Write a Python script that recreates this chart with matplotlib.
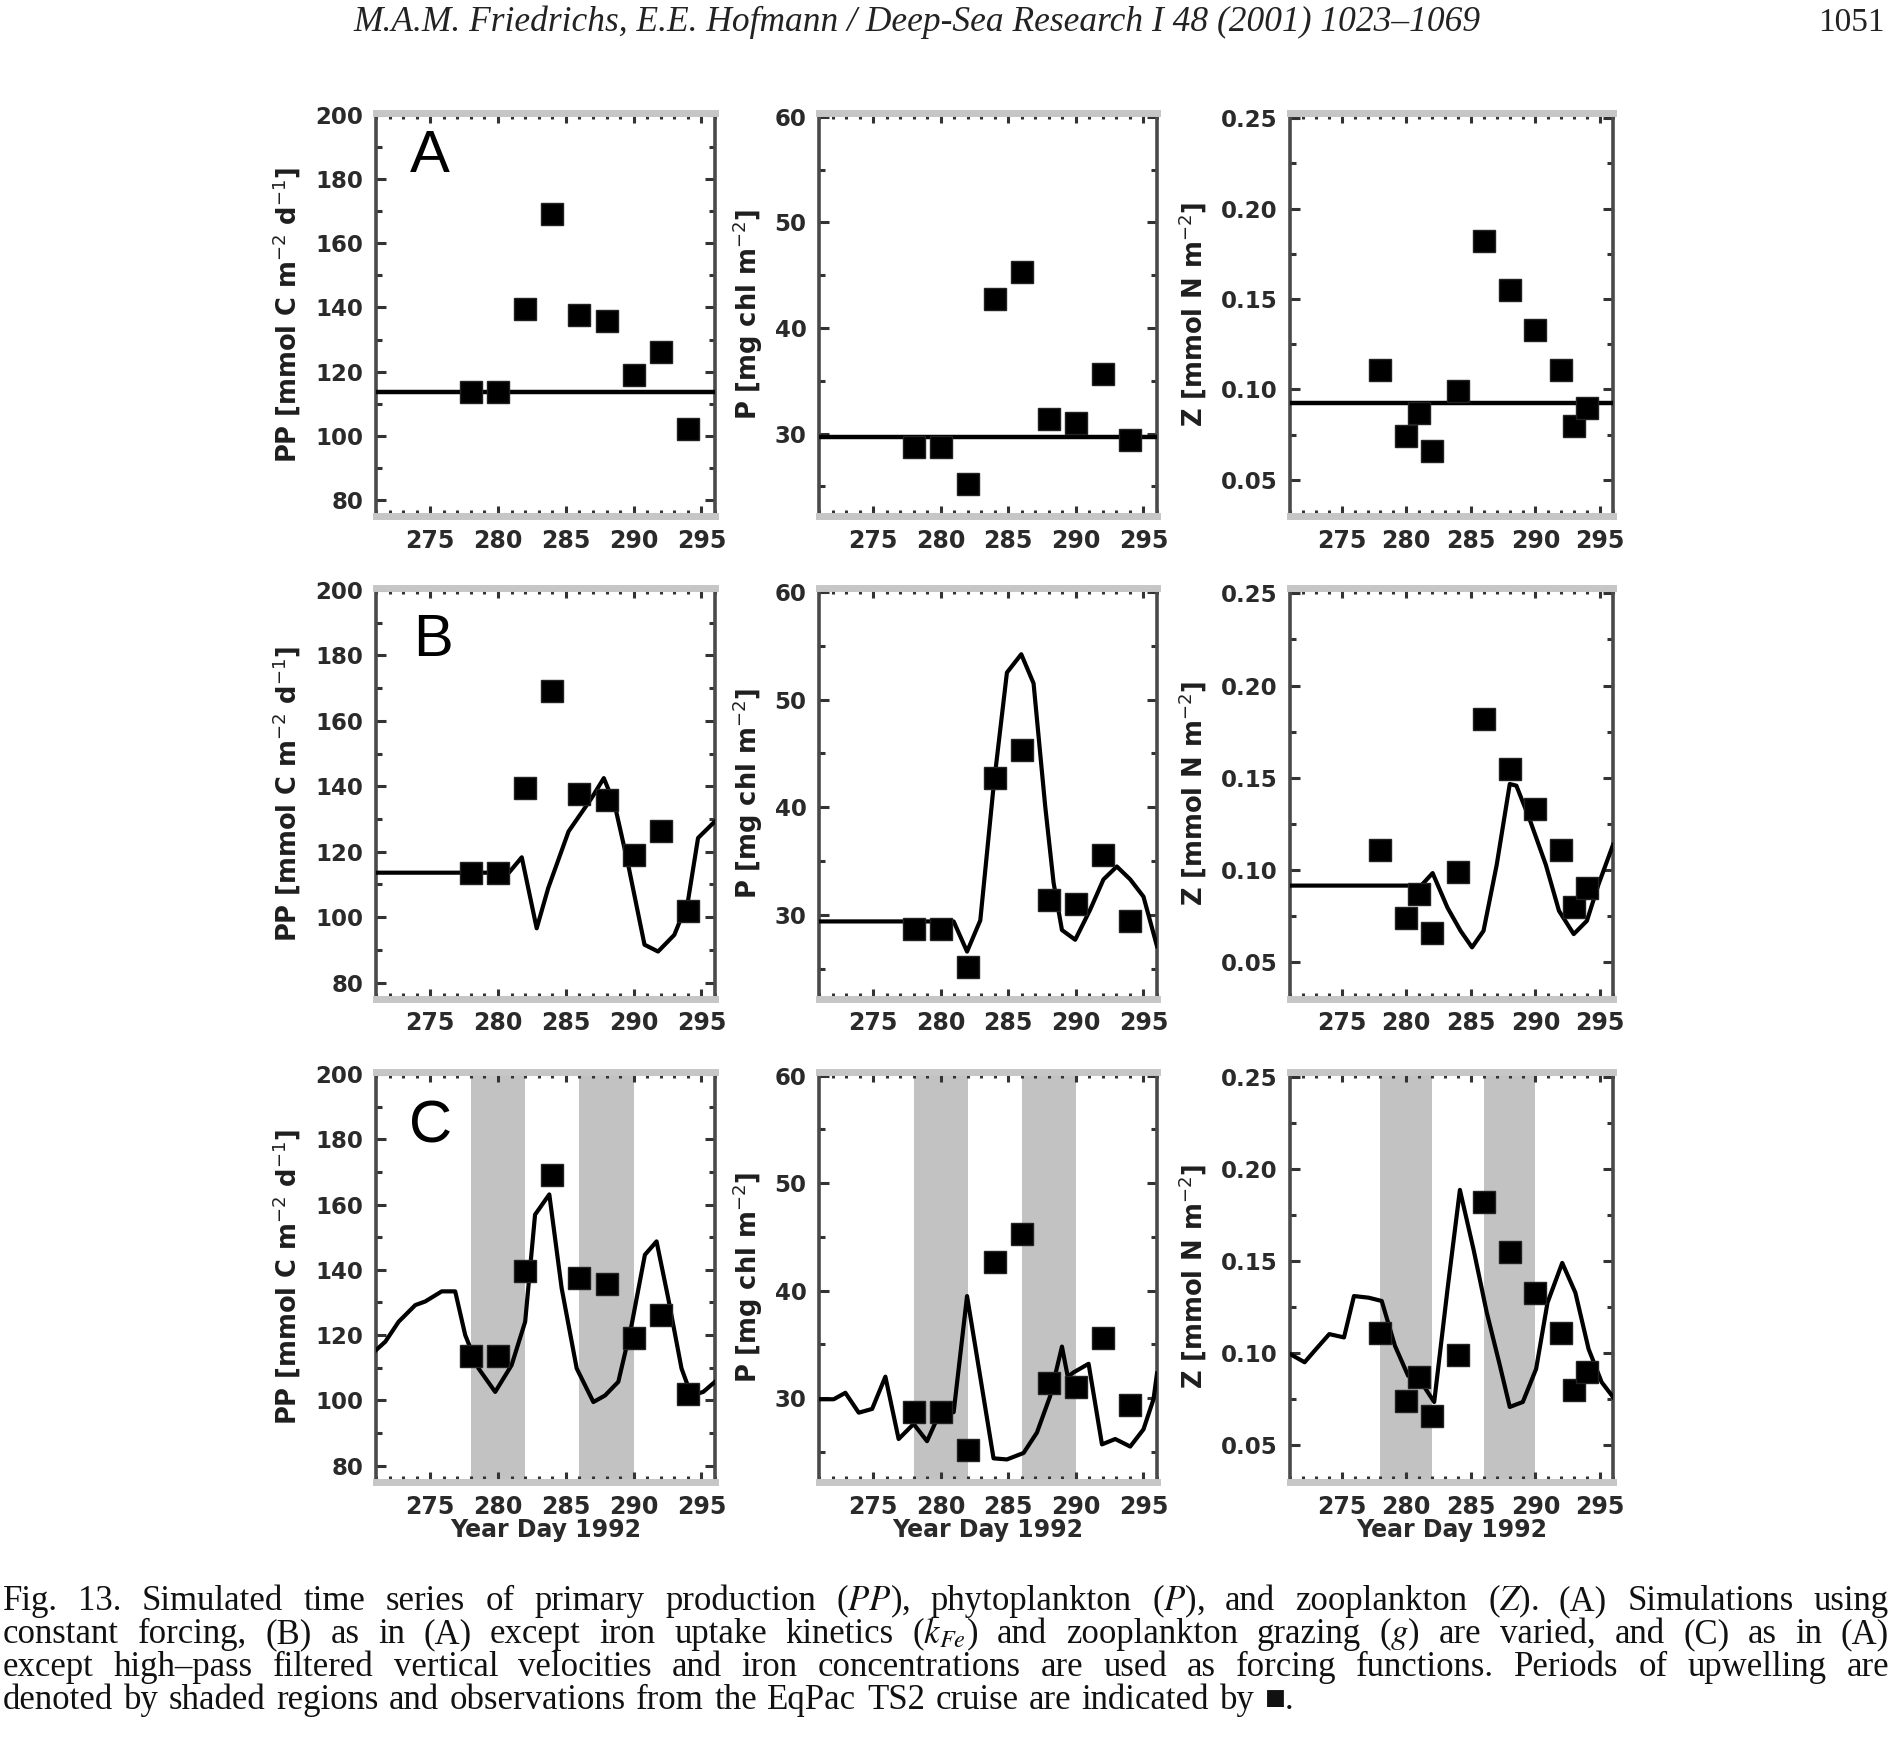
import matplotlib
matplotlib.use("Agg")
import matplotlib.pyplot as plt
from matplotlib.ticker import MultipleLocator, FixedLocator, FormatStrFormatter

# ---------------- data ----------------
x_ticks = [275, 280, 285, 290, 295]

# observations (EqPac TS2)
obs_pp_day = [278, 280, 282, 284, 286, 288, 290, 292, 294]
obs_pp = [113.6, 113.6, 139.5, 169.0, 137.5, 135.7, 119.0, 126.2, 102.0]

obs_p_day = [278, 280, 282, 284, 286, 288, 290, 292, 294]
obs_p = [28.7, 28.7, 25.2, 42.7, 45.3, 31.4, 31.0, 35.6, 29.4]

obs_z_day = [278, 280, 281, 282, 284, 286, 288, 290, 292, 293, 294]
obs_z = [0.111, 0.074, 0.087, 0.066, 0.099, 0.182, 0.155, 0.133, 0.111, 0.080, 0.090]

# (A) constant forcing
pp_const = 113.7
p_const = 29.7
z_const = 0.0924

# (B) varied kinetics / grazing
pp_b_day = [271.0, 280.8, 281.75, 282.85, 283.7, 285.2, 286.9, 287.8, 288.6, 289.6,
            290.8, 291.8, 293.0, 294.0, 294.75, 296.0]
pp_b = [113.6, 113.6, 118.3, 96.6, 108.9, 126.2, 136.4, 142.5, 134.4, 116.0,
        91.6, 89.5, 94.6, 104.8, 124.2, 129.3]

p_b_day = [271.0, 280.96, 281.95, 282.93, 283.91, 284.9, 285.96, 286.87, 287.73, 288.35,
           288.97, 289.95, 291.06, 292.04, 293.03, 294.02, 295.0, 296.0]
p_b = [29.4, 29.4, 26.6, 29.5, 41.9, 52.5, 54.2, 51.5, 40.1, 33.0,
       28.6, 27.7, 30.5, 33.3, 34.5, 33.3, 31.7, 27.1]

z_b_day = [271.0, 281.15, 282.04, 283.19, 284.2, 285.09, 285.98, 287.0, 288.01, 288.52,
           289.53, 290.8, 291.82, 292.96, 293.98, 294.87, 296.0]
z_b = [0.0915, 0.0915, 0.0983, 0.0795, 0.067, 0.058, 0.067, 0.1028, 0.1466, 0.1457,
       0.1278, 0.1028, 0.0778, 0.0652, 0.0724, 0.092, 0.1136]

# (C) high-pass filtered forcing
pp_c_day = [271.0, 271.69, 272.67, 273.9, 274.63, 275.85, 276.84, 277.58, 278.56, 279.79,
            281.0, 282.0, 282.73, 283.78, 284.69, 285.8, 287.03, 287.89, 288.87, 289.85,
            290.83, 291.69, 292.55, 293.53, 294.26, 295.13, 296.0]
pp_c = [115.4, 118.0, 124.1, 129.2, 130.3, 133.4, 133.4, 120.0, 109.8, 102.6,
        110.8, 124.1, 156.9, 163.1, 134.4, 109.8, 99.5, 101.5, 105.7, 123.1,
        144.6, 148.7, 131.3, 109.8, 101.5, 102.6, 105.7]

p_c_day = [271.0, 272.09, 272.95, 273.94, 274.93, 275.91, 276.89, 278.0, 278.99, 279.85,
           280.96, 281.95, 282.6, 283.91, 284.9, 286.13, 287.12, 288.1, 288.97, 289.4,
           289.83, 290.94, 291.93, 292.91, 294.02, 295.0, 295.74, 296.0]
p_c = [29.9, 29.9, 30.5, 28.65, 29.0, 32.0, 26.2, 27.6, 26.0, 28.4,
       28.7, 39.5, 34.5, 24.4, 24.3, 24.9, 26.8, 30.2, 34.8, 32.0,
       32.4, 33.2, 25.7, 26.2, 25.5, 27.1, 29.9, 32.3]

z_c_day = [271.0, 272.13, 273.02, 274.04, 275.18, 275.95, 277.09, 278.1, 279.12, 280.14,
           281.15, 282.16, 283.19, 284.15, 285.21, 286.23, 287.25, 288.01, 289.02, 290.05,
           290.93, 292.07, 293.09, 294.11, 295.12, 296.0]
z_c = [0.0996, 0.0951, 0.1023, 0.1104, 0.1086, 0.1311, 0.1302, 0.1284, 0.1041, 0.0878,
       0.0843, 0.0735, 0.1347, 0.1888, 0.1563, 0.1221, 0.0932, 0.0708, 0.0735, 0.0915,
       0.1275, 0.1491, 0.1329, 0.1023, 0.0843, 0.0762]

# upwelling periods (shaded)
upwell_start = [278, 286]
upwell_end = [282, 290]

panel_letters = ["A", "B", "C"]
ylabels = [r"PP [mmol C m$^{-2}$ d$^{-1}$]", r"P [mg chl m$^{-2}$]", r"Z [mmol N m$^{-2}$]"]
xlabel_text = "Year Day 1992"

header_text = "M.A.M. Friedrichs, E.E. Hofmann / Deep-Sea Research I 48 (2001) 1023\u20131069"
page_number = "1051"

caption_lines = [
    ["Fig.", "13.", "Simulated", "time", "series", "of", "primary", "production", r"($\mathit{PP}$),",
     "phytoplankton", r"($\mathit{P}$),", "and", "zooplankton", r"($\mathit{Z}$).", "(A)", "Simulations", "using"],
    ["constant", "forcing,", "(B)", "as", "in", "(A)", "except", "iron", "uptake", "kinetics", r"($k_{Fe}$)",
     "and", "zooplankton", "grazing", r"($g$)", "are", "varied,", "and", "(C)", "as", "in", "(A)"],
    ["except", "high\u2013pass", "filtered", "vertical", "velocities", "and", "iron", "concentrations", "are",
     "used", "as", "forcing", "functions.", "Periods", "of", "upwelling", "are"],
    ["denoted", "by", "shaded", "regions", "and", "observations", "from", "the", "EqPac", "TS2", "cruise",
     "are", "indicated", "by", "\u25a0."],
]

# ---------------- figure ----------------
W, H = 1892, 1759
fig = plt.figure(figsize=(W / 100, H / 100), dpi=100)
fig.patch.set_facecolor("white")

col_px = [(376, 715), (819, 1157), (1290, 1613)]
row_px = [(113, 516), (588, 999), (1072, 1482)]

ylims = [(75.0, 200.6), (22.2, 60.35), (0.030, 0.2529)]
ymajor = [20, 10, 0.05]
yminor = [10, 5, 0.025]
yfmt = ["%d", "%d", "%.2f"]
ylabel_x = [-0.2625, -0.2115, -0.30]
letter_pos = [(0.159, 0.891), (0.167, 0.873), (0.162, 0.867)]

obs_days = [obs_pp_day, obs_p_day, obs_z_day]
obs_vals = [obs_pp, obs_p, obs_z]
consts = [pp_const, p_const, z_const]
b_days = [pp_b_day, p_b_day, z_b_day]
b_vals = [pp_b, p_b, z_b]
c_days = [pp_c_day, p_c_day, z_c_day]
c_vals = [pp_c, p_c, z_c]

for r in range(3):
    for c in range(3):
        l, rr = col_px[c]
        t, b = row_px[r]
        ax = fig.add_axes([l / W, 1 - b / H, (rr - l) / W, (b - t) / H])
        ax.set_xlim(271, 296)
        ax.set_ylim(*ylims[c])

        if r == 2:
            for s, e in zip(upwell_start, upwell_end):
                ax.axvspan(s, e, color="#c2c2c2", lw=0, zorder=0)

        if r == 0:
            ax.axhline(consts[c], color="black", lw=3.2, zorder=3)
        elif r == 1:
            ax.plot(b_days[c], b_vals[c], color="black", lw=3.0, zorder=3)
        else:
            ax.plot(c_days[c], c_vals[c], color="black", lw=3.0, zorder=3)

        ax.plot(obs_days[c], obs_vals[c], "s", ms=15.5, color="black",
                markeredgecolor="#222222", zorder=4, clip_on=False)

        ax.xaxis.set_major_locator(FixedLocator(x_ticks))
        ax.xaxis.set_minor_locator(MultipleLocator(1))
        ax.yaxis.set_major_locator(MultipleLocator(ymajor[c]))
        ax.yaxis.set_minor_locator(MultipleLocator(yminor[c]))
        ax.yaxis.set_major_formatter(FormatStrFormatter(yfmt[c]))
        ax.tick_params(which="both", direction="in", top=True, right=True,
                       color="#333333", width=2.2)
        ax.tick_params(which="major", length=7, pad=8, labelcolor="#2a2a2a")
        ax.tick_params(axis="x", which="major", labelsize=17, pad=9)
        ax.tick_params(axis="y", which="major", labelsize=16.5, pad=9)
        ax.tick_params(which="minor", length=4)
        for lab in ax.get_xticklabels() + ax.get_yticklabels():
            lab.set_fontweight("bold")
        for s in ("left", "right"):
            ax.spines[s].set_color("#4a4a4a")
            ax.spines[s].set_linewidth(2.6)
        for s in ("top", "bottom"):
            ax.spines[s].set_color("#c6c6c6")
            ax.spines[s].set_linewidth(5)

        ax.set_ylabel(ylabels[c], fontsize=18.5, fontweight="bold", color="#1e1e1e", va="center")
        ax.yaxis.set_label_coords(ylabel_x[c], 0.5)

        if c == 0:
            lx, ly = letter_pos[r]
            ax.text(lx, ly, panel_letters[r], transform=ax.transAxes, fontsize=43,
                    family=["Liberation Sans", "DejaVu Sans"],
                    ha="center", va="center", color="black")

        if r == 2:
            ax.set_xlabel(xlabel_text, fontsize=17, fontweight="bold", color="#2a2a2a")
            ax.xaxis.set_label_coords(0.5, -(1530 - 1482) / 410)
            ax.xaxis.label.set_va("center")

# ---------------- header & caption ----------------
serif = ["Liberation Serif", "DejaVu Serif"]
renderer = fig.canvas.get_renderer()

fig.text(917 / W, 1 - 31 / H, header_text, fontsize=25.5, style="italic",
         family=serif, va="baseline", ha="center", color="#222222")
fig.text(1885 / W, 1 - 31 / H, page_number, fontsize=24, family=serif,
         va="baseline", ha="right", color="#222222")

cap_fs = 25
baselines = [1610, 1643, 1676, 1709]
left_px, right_px = 3, 1889
for i, words in enumerate(caption_lines):
    ts = [fig.text(0, 1 - baselines[i] / H, w, fontsize=cap_fs, family=serif,
                   math_fontfamily="stix", va="baseline", ha="left", color="#111111")
          for w in words]
    ws = [tt.get_window_extent(renderer).width for tt in ts]
    if i < 3:
        gap = (right_px - left_px - sum(ws)) / (len(ws) - 1)
    else:
        gap = cap_fs * 100 / 72 * 0.3
    x = left_px
    for tt, w in zip(ts, ws):
        tt.set_x(x / W)
        x += w + gap

fig.savefig("out.png", dpi=100, facecolor="white")
